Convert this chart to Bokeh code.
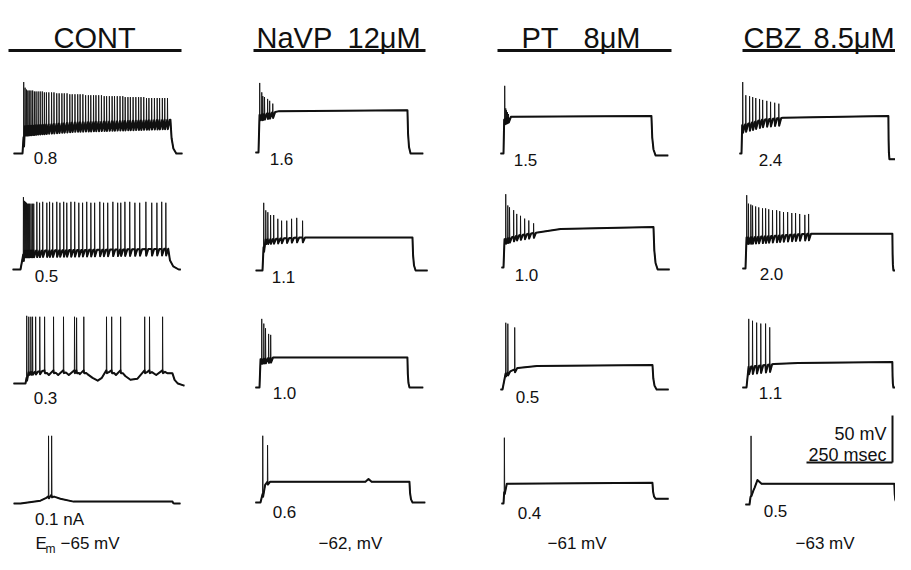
import numpy as np
from bokeh.plotting import figure
from bokeh.models import Range1d
from bokeh.core.properties import value
from bokeh.embed import file_html
from bokeh.resources import INLINE

# ---------------- data (ms after current onset, mV above resting level) ----------------
CURRENTS = [["0.8", "1.6", "1.5", "2.4"],
            ["0.5", "1.1", "1.0", "2.0"],
            ["0.3", "1.0", "0.5", "1.1"],
            ["0.1 nA", "0.6", "0.4", "0.5"]]
EM_LABELS = ["−65 mV", "−62, mV", "−61 mV", "−63 mV"]
SCALE_MV = 50
SCALE_MS = 250

# --- CONT ---
cont_08 = dict(pre=26, dur=430, fall=17, post=35, post_v=0, ahp=10,
               path_t=[0, 5, 150, 430], path_v=[0, 29, 33, 36],
               spike_t=[3, 7, 11, 15, 19, 24, 29, 34, 39, 45, 51, 57, 63, 69, 76, 84, 91, 99, 106, 114,
                        121, 129, 137, 144, 152, 160, 167, 175, 183, 191, 198, 206, 213, 221, 229, 237,
                        244, 252, 260, 267, 275, 283, 291, 298, 306, 313, 321, 329, 337, 344, 352, 360,
                        367, 375, 383, 391, 398, 406, 413, 421],
               spike_v=[76, 70, 68, 67, 67, 67, 67, 66, 66, 66, 66, 66, 65, 65, 65, 65, 65, 64, 64, 64,
                        64, 64, 63, 63, 63, 63, 63, 63, 62, 62, 62, 62, 62, 62, 62, 61, 61, 61, 61, 61,
                        61, 61, 61, 60, 60, 60, 60, 60, 60, 60, 60, 59, 59, 59, 59, 59, 59, 59, 59, 59])
cont_05 = dict(pre=23, dur=428, fall=32, post=38, post_v=0, ahp=7,
               path_t=[0, 4, 10, 428], path_v=[0, 8, 20, 22],
               spike_t=[8, 11, 14, 17, 20, 23, 26, 30, 34, 38, 47, 55, 64, 76, 84, 93, 105, 114, 125, 134,
                        146, 157, 169, 180, 192, 204, 215, 230, 241, 253, 268, 282, 291, 303, 317, 332,
                        346, 364, 381, 396, 410, 422],
               spike_v=[77, 73, 72, 71, 70, 70, 70, 70, 70, 70, 72, 71, 72, 71, 72, 71, 72, 71, 72, 71,
                        72, 72, 71, 71, 72, 71, 71, 72, 71, 71, 72, 71, 71, 72, 72, 71, 71, 72, 71, 71,
                        72, 71])
cont_03 = dict(pre=35, dur=427, fall=32, post=35, post_v=-2, ahp=3,
               path_t=[0, 6, 45, 55, 68, 81, 95, 110, 126, 142, 150, 158, 169, 180, 195, 210, 222, 235,
                       242, 250, 263, 276, 290, 305, 325, 346, 353, 360, 380, 398, 412, 427],
               path_v=[0, 12, 13, 14, 9, 14, 9, 14, 9, 14, 14, 10, 14, 10, 6, 3, 6, 14,
                       12, 14, 9, 14, 8, 4, 5, 14, 12, 14, 9, 14, 11, 11],
               spike_t=[3, 9, 15, 20, 29, 41, 55, 81, 110, 142, 148, 169, 235, 250, 276, 346, 360, 398],
               spike_v=[72, 71, 71, 71, 71, 71, 71, 71, 71, 71, 70, 71, 71, 71, 71, 71, 71, 71])
cont_01 = dict(pre=20, dur=442, fall=6, post=23, post_v=0, ahp=2,
               path_t=[0, 58, 75, 87, 100, 116, 154, 442], path_v=[0, 3, 6, 9, 7, 5, 2, 2],
               spike_t=[81, 90], spike_v=[72, 72])
# --- NaVP 12 uM ---
navp_16 = dict(pre=9, dur=433, fall=9, post=46, post_v=-1, ahp=6,
               path_t=[0, 3, 60, 433], path_v=[0, 40, 44, 45],
               spike_t=[3, 9, 12, 17, 26, 32, 41], spike_v=[74, 64, 60, 59, 57, 55, 52])
navp_11 = dict(pre=20, dur=436, fall=9, post=44, post_v=0, ahp=5,
               path_t=[0, 4, 100, 436], path_v=[0, 33, 35, 35],
               spike_t=[3, 9, 15, 23, 32, 44, 55, 70, 84, 99, 116],
               spike_v=[72, 64, 62, 59, 59, 55, 53, 53, 55, 56, 53])
navp_10 = dict(pre=12, dur=430, fall=6, post=46, post_v=0, ahp=5,
               path_t=[0, 3, 40, 430], path_v=[0, 30, 32, 32],
               spike_t=[6, 12, 17, 26, 32], spike_v=[73, 68, 63, 57, 56])
navp_06 = dict(pre=15, dur=433, fall=9, post=46, post_v=0, ahp=3,
               path_t=[0, 12, 20, 305, 314, 323, 433], path_v=[0, 18, 22, 22, 25, 22, 22],
               spike_t=[6, 20], spike_v=[71, 61])
# --- PT 8 uM ---
pt_15 = dict(pre=9, dur=430, fall=12, post=49, post_v=-2, ahp=5,
             path_t=[0, 2, 20, 430], path_v=[0, 36, 39, 40],
             spike_t=[3, 6, 8, 11, 14], spike_v=[72, 48, 46, 44, 42])
pt_10 = dict(pre=6, dur=436, fall=12, post=47, post_v=-2, ahp=5,
             path_t=[0, 3, 40, 166, 436], path_v=[0, 30, 34, 41, 43],
             spike_t=[6, 12, 17, 29, 38, 49, 61, 73, 87], spike_v=[78, 66, 64, 61, 57, 55, 52, 50, 47])
pt_05 = dict(pre=6, dur=436, fall=12, post=47, post_v=0, ahp=3,
             path_t=[0, 9, 45, 100, 436], path_v=[0, 17, 23, 25, 26],
             spike_t=[9, 15, 35], spike_v=[71, 70, 66])
pt_04 = dict(pre=6, dur=433, fall=9, post=47, post_v=5, ahp=2,
             path_t=[0, 3, 10, 433], path_v=[0, 18, 21, 22],
             spike_t=[2], spike_v=[70])
# --- CBZ 8.5 uM ---
cbz_24 = dict(pre=6, dur=427, fall=3, post=58, post_v=-6, ahp=8,
              path_t=[0, 2, 60, 120, 427], path_v=[0, 30, 36, 38, 40],
              spike_t=[3, 12, 23, 32, 41, 52, 61, 73, 84, 96, 108],
              spike_v=[76, 62, 61, 60, 59, 58, 57, 56, 55, 54, 53])
cbz_20 = dict(pre=9, dur=427, fall=3, post=46, post_v=-2, ahp=7,
              path_t=[0, 3, 180, 427], path_v=[0, 33, 37, 37],
              spike_t=[3, 8, 15, 20, 29, 38, 49, 58, 67, 78, 90, 99, 110, 122, 134, 145, 157, 172, 183],
              spike_v=[78, 69, 68, 67, 66, 65, 64, 64, 63, 62, 62, 61, 60, 60, 59, 59, 58, 57, 58])
cbz_11 = dict(pre=12, dur=424, fall=3, post=41, post_v=0, ahp=8,
              path_t=[0, 6, 80, 150, 424], path_v=[0, 22, 25, 26, 27],
              spike_t=[6, 17, 29, 41, 55, 67], spike_v=[73, 71, 69, 68, 68, 64])
cbz_05 = dict(pre=12, dur=421, fall=6, post=32, post_v=2, ahp=0,
              path_t=[0, 3, 15, 23, 35, 421], path_v=[0, 8, 18, 26, 22, 22],
              spike_t=[4], spike_v=[73])

TRACES = [[cont_08, navp_16, pt_15, cbz_24],
          [cont_05, navp_11, pt_10, cbz_20],
          [cont_03, navp_10, pt_05, cbz_11],
          [cont_01, navp_06, pt_04, cbz_05]]

# ---------------- layout (picture pixels) ----------------
W, H = 895, 554
MS_PER_PX = SCALE_MS / 86.0
MV_PER_PX = SCALE_MV / 47.0
ONSET_X = [[22, 258, 503, 741], [20, 262, 503, 745], [25, 259, 502, 746], [20, 260, 503, 749]]
BASE_Y = [[153, 152, 153, 153], [269, 270, 267, 268], [383, 387, 389, 387], [503, 502, 503, 504]]
LABEL_XY = [[(45, 157), (281, 158), (525, 159), (770, 159)],
            [(46, 275), (283, 276), (526, 274), (771, 273)],
            [(45, 397), (284, 392), (527, 396), (770, 392)],
            [(59, 519), (284, 511), (529, 512), (775, 510)]]
EM_BASELINE = 543


def X(px):
    return px * MS_PER_PX


def Y(px):
    return -px * MV_PER_PX


def build(tr):
    pt = np.asarray(tr["path_t"], float)
    pv = np.asarray(tr["path_v"], float)
    st = list(tr["spike_t"])
    sv = list(tr["spike_v"])
    ahp, rec = tr["ahp"], 6.0
    f = lambda t: float(np.interp(t, pt, pv))
    wins = [(s, s + 1.5 + rec) for s in st]
    pts = [(t, v, False) for t, v in zip(pt, pv) if not any(a - 0.01 <= t <= b for a, b in wins)]
    for i, (s, peak) in enumerate(zip(st, sv)):
        b = f(s)
        pts += [(s, b, False), (s + 0.5, peak, True), (s + 1.5, b - ahp, False)]
        nxt = st[i + 1] if i + 1 < len(st) else np.inf
        if s + 1.5 + rec < nxt - 0.5:
            pts.append((s + 1.5 + rec, f(s + 1.5 + rec), False))
    pts.sort(key=lambda q: q[0])
    dur = tr["dur"]
    if pts[-1][0] < dur:
        pts.append((dur, f(dur), False))
    vend, pv_, fl = f(dur), tr["post_v"], tr["fall"]
    tail = [(dur + 0.2 * fl, vend - 0.55 * (vend - pv_)),
            (dur + 0.5 * fl, vend - 0.85 * (vend - pv_)),
            (dur + fl, pv_), (dur + tr["post"], pv_)]
    full = [(-tr["pre"], 0.0)] + [(t, v) for t, v, _ in pts] + tail
    body = [(-tr["pre"], 0.0)] + [(t, v) for t, v, is_peak in pts if not is_peak] + tail
    return full, body


p = figure(width=W, height=H, x_range=Range1d(0, W * MS_PER_PX), y_range=Range1d(-H * MV_PER_PX, 0),
           output_backend="svg", toolbar_location=None, min_border=0,
           x_axis_type=None, y_axis_type=None)
p.grid.visible = False
p.outline_line_color = None
p.background_fill_color = "white"
p.border_fill_color = "white"

fx, fy, bx, by = [], [], [], []
for r in range(4):
    for c in range(4):
        full, body = build(TRACES[r][c])
        x0, y0 = X(ONSET_X[r][c]), Y(BASE_Y[r][c])
        fx.append([x0 + t for t, v in full]); fy.append([y0 + v for t, v in full])
        bx.append([x0 + t for t, v in body]); by.append([y0 + v for t, v in body])

p.multi_line(xs=bx, ys=by, line_color="#111111", line_width=2.0, line_join="round")
p.multi_line(xs=fx, ys=fy, line_color="#111111", line_width=0.9, line_join="round")

# header rules
RULES = [(8, 181), (253, 425), (497, 671), (742, 895)]
p.multi_line(xs=[[X(a), X(b)] for a, b in RULES], ys=[[Y(50), Y(50)] for _ in RULES],
             line_color="#111111", line_width=3)

# headers
HEAD_PARTS = [("CONT", 53), ("NaVP", 256), ("12μM", 347), ("PT", 521), ("8μM", 583), ("CBZ", 743), ("8.5μM", 813)]
p.text(x=[X(xp) for _, xp in HEAD_PARTS], y=[Y(37)] * len(HEAD_PARTS), text=[t for t, _ in HEAD_PARTS],
       text_font=value("Liberation Sans"), text_font_size=value("29px"), text_color="#111111",
       text_align="left", text_baseline="alphabetic")

# current labels
lx, ly, lt = [], [], []
for r in range(4):
    for c in range(4):
        lx.append(X(LABEL_XY[r][c][0])); ly.append(Y(LABEL_XY[r][c][1])); lt.append(CURRENTS[r][c])
p.text(x=lx, y=ly, text=lt, text_font=value("Liberation Sans"), text_font_size=value("17px"),
       text_color="#111111", text_align="center", text_baseline="middle")

# resting potentials
EM_X = [60, 318, 547, 795]
p.text(x=[X(v) for v in EM_X], y=[Y(EM_BASELINE)] * 4, text=EM_LABELS, text_font=value("Liberation Sans"),
       text_font_size=value("17px"), text_color="#111111", text_align="left", text_baseline="alphabetic")
p.text(x=[X(35)], y=[Y(EM_BASELINE)], text=["E"], text_font=value("Liberation Sans"),
       text_font_size=value("17px"), text_color="#111111", text_align="left", text_baseline="alphabetic")
p.text(x=[X(45)], y=[Y(EM_BASELINE + 5)], text=["m"], text_font=value("Liberation Sans"),
       text_font_size=value("12px"), text_color="#111111", text_align="left", text_baseline="alphabetic")

# scale bar
sx, sy = X(892), Y(462)
p.multi_line(xs=[[sx, sx], [sx - SCALE_MS, sx]], ys=[[sy + SCALE_MV, sy], [sy, sy]],
             line_color="#111111", line_width=2)
p.text(x=[X(886), X(886)], y=[Y(433), Y(454)], text=[f"{SCALE_MV} mV", f"{SCALE_MS} msec"],
       text_font=value("Liberation Sans"), text_font_size=value("18px"), text_color="#111111",
       text_align="right", text_baseline="alphabetic")

open("out.html", "w").write(file_html(p, INLINE))
